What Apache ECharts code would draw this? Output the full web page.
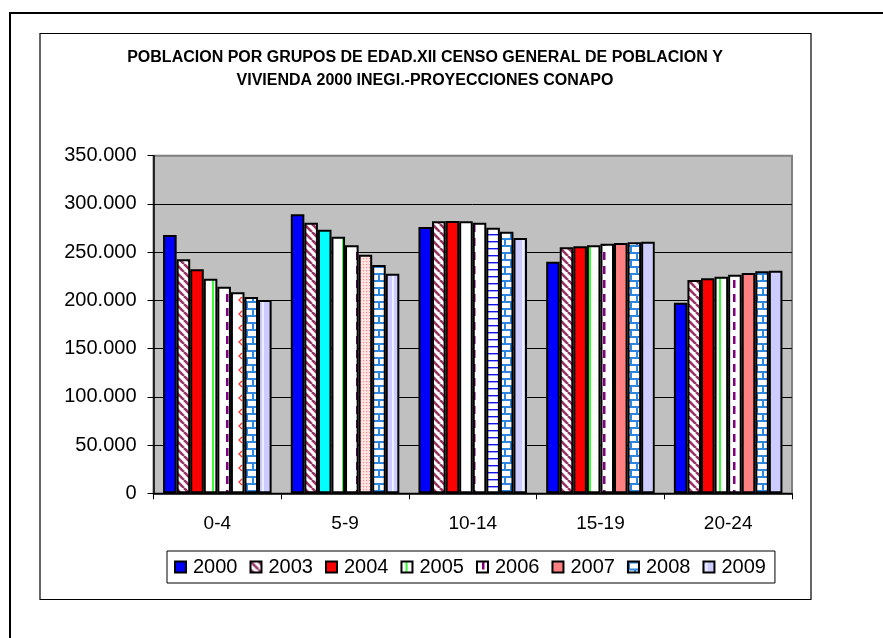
<!DOCTYPE html>
<html>
<head>
<meta charset="utf-8">
<script src="https://cdn.jsdelivr.net/npm/echarts@6/dist/echarts.min.js"></script>
<style>html,body{margin:0;padding:0;background:#fff}#c{width:883px;height:638px}</style>
</head>
<body>
<div id="c"></div>
<script>
// ---- data ----
const categories = ['0-4', '5-9', '10-14', '15-19', '20-24'];
const years = ['2000', '2003', '2004', '2005', '2006', '2007', '2008', '2009'];
const v2000 = [267800, 289200, 276100, 240100, 197600];
const v2003 = [242600, 280500, 282000, 255000, 221100];
const v2004 = [232300, 273300, 282300, 256100, 222900];
const v2005 = [222500, 266000, 282000, 257100, 224500];
const v2006 = [214200, 257100, 280500, 258800, 226600];
const v2007 = [208400, 247400, 275300, 259500, 228400];
const v2008 = [203500, 236700, 271200, 260200, 230100];
const v2009 = [200400, 227700, 264700, 260800, 230800];
const yTicks = [0, 50000, 100000, 150000, 200000, 250000, 300000, 350000];
const titleText = 'POBLACION POR GRUPOS DE EDAD.XII CENSO GENERAL DE POBLACION Y\nVIVIENDA 2000 INEGI.-PROYECCIONES CONAPO';

// ---- patterns ----
function pat(w, h, draw) {
  const c = document.createElement('canvas');
  c.width = w; c.height = h;
  const ctx = c.getContext('2d');
  draw(ctx, w, h);
  return { image: c, repeat: 'repeat' };
}
const P = {
  blue: '#0000FF',
  red: '#FF0000',
  cyan: '#00FFFF',
  salmon: '#FF8080',
  diag: pat(8, 8, (x, w, h) => {
    x.fillStyle = '#fff'; x.fillRect(0, 0, w, h);
    x.strokeStyle = '#993366'; x.lineWidth = 2.6;
    for (let i = -1; i <= 1; i++) { x.beginPath(); x.moveTo(i * 8, 0); x.lineTo(i * 8 + 8, 8); x.stroke(); }
  }),
  green: pat(13, 4, (x, w, h) => {
    x.fillStyle = '#fff'; x.fillRect(0, 0, w, h);
    x.fillStyle = '#33FF33'; x.fillRect(4, 0, 2, h);
  }),
  dash: pat(13, 14, (x, w, h) => {
    x.fillStyle = '#fff'; x.fillRect(0, 0, w, h);
    x.fillStyle = '#800080'; x.fillRect(5, 0, 2.5, 8);
  }),
  redMarks: pat(13, 14, (x, w, h) => {
    x.fillStyle = '#fff'; x.fillRect(0, 0, w, h);
    x.strokeStyle = '#FF3333'; x.lineWidth = 1.3;
    x.beginPath(); x.moveTo(8, 3); x.lineTo(5, 6); x.lineTo(8, 9); x.stroke();
  }),
  pinkDots: pat(3, 3, (x, w, h) => {
    x.fillStyle = '#FFE4E4'; x.fillRect(0, 0, w, h);
    x.fillStyle = '#FF8888'; x.fillRect(0, 0, 1.2, 1.2);
  }),
  hlines: pat(4, 7, (x, w, h) => {
    x.fillStyle = '#fff'; x.fillRect(0, 0, w, h);
    x.fillStyle = '#1010F0'; x.fillRect(0, 3, w, 1.4);
  }),
  brick: pat(12, 14, (x, w, h) => {
    x.fillStyle = '#fff'; x.fillRect(0, 0, w, h);
    x.fillStyle = '#2E86DE';
    x.fillRect(0, 0, w, 2); x.fillRect(0, 7, w, 2);
    x.fillRect(0, 0, 2, 7); x.fillRect(6, 7, 2, 7);
  }),
  lav: pat(13, 4, (x, w, h) => {
    x.fillStyle = '#CCCCFF'; x.fillRect(0, 0, w, h);
    x.fillStyle = '#EEEEFF'; x.fillRect(2, 0, 2, h);
  })
};
const seriesValues = [v2000, v2003, v2004, v2005, v2006, v2007, v2008, v2009];
const seriesFill = [P.blue, P.diag, P.red, P.green, P.dash, P.salmon, P.brick, P.lav];
// per-point fill exceptions [seriesIndex, categoryIndex, fill]
const overrides = [[2, 1, P.cyan], [5, 0, P.redMarks], [5, 1, P.pinkDots], [5, 2, P.hlines]];

const series = years.map((y, si) => ({
  name: y,
  type: 'bar',
  barGap: '0%',
  barCategoryGap: '15%',
  itemStyle: { color: seriesFill[si], borderColor: '#000', borderWidth: 2 },
  data: seriesValues[si].map((v, ci) => {
    const o = overrides.find(r => r[0] === si && r[1] === ci);
    return o ? { value: v, itemStyle: { color: o[2] } } : v;
  })
}));

const FONT = '"Liberation Sans", Arial, sans-serif';
const chart = echarts.init(document.getElementById('c'), null, { renderer: 'canvas' });
chart.setOption({
  backgroundColor: '#fff',
  animation: false,
  textStyle: { fontFamily: FONT },
  title: {
    text: titleText,
    left: 425, top: 46, textAlign: 'center', padding: 0,
    textStyle: { fontFamily: FONT, fontSize: 16, fontWeight: 'bold', color: '#000', lineHeight: 23 }
  },
  graphic: [
    { type: 'polyline', shape: { points: [[10, 638], [10, 13], [883, 13]] }, style: { stroke: '#000', lineWidth: 2, fill: null }, z: 100 },
    { type: 'rect', shape: { x: 40, y: 33.5, width: 771, height: 566 }, style: { stroke: '#000', lineWidth: 1.2, fill: null }, z: 100 }
  ],
  legend: {
    data: years,
    left: 167, top: 551,
    orient: 'horizontal',
    itemWidth: 11, itemHeight: 11, itemGap: 12,
    icon: 'rect',
    itemStyle: { borderColor: '#000', borderWidth: 2 },
    borderColor: '#000', borderWidth: 1,
    padding: [6, 9, 6, 7],
    textStyle: { fontFamily: FONT, fontSize: 20, color: '#000', padding: [0, 0, 0, 2] }
  },
  grid: {
    left: 153.5, right: 883 - 792, top: 155.7, bottom: 638 - 493.3,
    show: true, backgroundColor: '#C0C0C0', borderColor: '#808080', borderWidth: 2,
    containLabel: false
  },
  xAxis: {
    type: 'category',
    data: categories,
    axisLine: { lineStyle: { color: '#000', width: 1.5 } },
    axisTick: { show: true, length: 6, lineStyle: { color: '#000', width: 1 } },
    axisLabel: { fontFamily: FONT, fontSize: 19, color: '#000', margin: 21 },
    splitLine: { show: false }
  },
  yAxis: {
    type: 'value',
    min: yTicks[0], max: yTicks[yTicks.length - 1], interval: yTicks[1] - yTicks[0],
    axisLine: { show: true, lineStyle: { color: '#000', width: 1.5 } },
    axisTick: { show: true, length: 6, lineStyle: { color: '#000', width: 1 } },
    axisLabel: {
      fontFamily: FONT, fontSize: 20, color: '#000', margin: 17,
      formatter: v => v === 0 ? '0' : String(v).replace(/\B(?=(\d{3})+(?!\d))/g, '.')
    },
    splitLine: { show: true, showMaxLine: false, lineStyle: { color: '#000', width: 1 } }
  },
  series: series
});
</script>
</body>
</html>
